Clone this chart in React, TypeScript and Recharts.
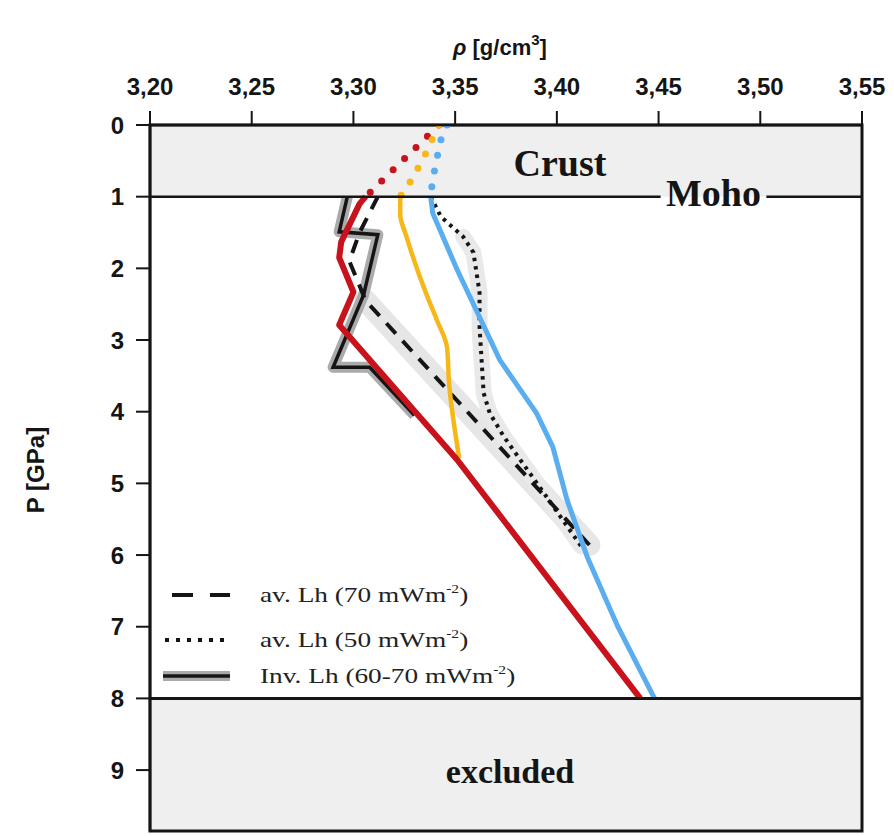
import React from 'react';
import {
  ComposedChart,
  Line,
  XAxis,
  YAxis,
  ReferenceArea,
  ReferenceLine,
  ReferenceDot,
} from 'recharts';

// axes
const rhoTicks = [3.2, 3.25, 3.3, 3.35, 3.4, 3.45, 3.5, 3.55];
const pTicks = [0, 1, 2, 3, 4, 5, 6, 7, 8, 9];
const rhoDomain = [3.2, 3.55];
const pDomain = [0, 9.85];
const mohoP = 1;
const cutP = 8;

// crust extrapolations (dotted, P 0-1)
const redCrust = [
  { p: 0, rho: 3.342 },
  { p: 1, rho: 3.306 },
];
const orangeCrust = [
  { p: 0, rho: 3.342 },
  { p: 0.43, rho: 3.335 },
  { p: 0.64, rho: 3.331 },
  { p: 0.84, rho: 3.327 },
  { p: 1, rho: 3.323 },
];
const blueCrust = [
  { p: 0, rho: 3.346 },
  { p: 0.28, rho: 3.342 },
  { p: 0.5, rho: 3.341 },
  { p: 0.74, rho: 3.339 },
  { p: 1, rho: 3.338 },
];

// mantle profiles
const redMantle = [
  { p: 1, rho: 3.306 },
  { p: 1.1, rho: 3.303 },
  { p: 1.63, rho: 3.294 },
  { p: 1.85, rho: 3.293 },
  { p: 2.33, rho: 3.3 },
  { p: 2.79, rho: 3.293 },
  { p: 4.67, rho: 3.351 },
  { p: 8, rho: 3.441 },
];
const orangeMantle = [
  { p: 1, rho: 3.323 },
  { p: 1.25, rho: 3.323 },
  { p: 1.55, rho: 3.326 },
  { p: 2.37, rho: 3.336 },
  { p: 2.72, rho: 3.341 },
  { p: 3.1, rho: 3.346 },
  { p: 3.6, rho: 3.347 },
  { p: 4.65, rho: 3.352 },
];
const blueMantle = [
  { p: 1, rho: 3.338 },
  { p: 1.23, rho: 3.339 },
  { p: 2.02, rho: 3.351 },
  { p: 3.28, rho: 3.372 },
  { p: 4.02, rho: 3.39 },
  { p: 4.49, rho: 3.398 },
  { p: 5.23, rho: 3.405 },
  { p: 6.03, rho: 3.415 },
  { p: 7, rho: 3.43 },
  { p: 8, rho: 3.448 },
];

// lithosphere references
const avLh70 = [
  { p: 1, rho: 3.312 },
  { p: 1.5, rho: 3.303 },
  { p: 1.9, rho: 3.298 },
  { p: 2.45, rho: 3.306 },
  { p: 5.86, rho: 3.416 },
];
const avLh50 = [
  { p: 1, rho: 3.338 },
  { p: 1.28, rho: 3.343 },
  { p: 1.56, rho: 3.354 },
  { p: 1.78, rho: 3.359 },
  { p: 2.34, rho: 3.362 },
  { p: 2.82, rho: 3.362 },
  { p: 3.74, rho: 3.364 },
  { p: 4.02, rho: 3.367 },
  { p: 4.35, rho: 3.374 },
  { p: 5.19, rho: 3.395 },
  { p: 5.88, rho: 3.412 },
];
const invLh = [
  { p: 1, rho: 3.297 },
  { p: 1.49, rho: 3.293 },
  { p: 1.53, rho: 3.312 },
  { p: 2.37, rho: 3.305 },
  { p: 3.38, rho: 3.29 },
  { p: 3.38, rho: 3.308 },
  { p: 4.05, rho: 3.33 },
];

const legendLabels = ['av. Lh (70 mWm', 'av. Lh (50 mWm', 'Inv. Lh (60-70 mWm'];

const RED = '#c8121c';
const ORANGE = '#f7b718';
const BLUE = '#5aaef0';
const INK = '#151515';
const SHADE = '#efefef';
const SERIF = '"Liberation Serif", "Times New Roman", serif';
const SANS = '"Liberation Sans", Arial, Helvetica, sans-serif';

const bandData = avLh70.filter((d) => d.p >= 2.4);
const dottedBand = avLh50.filter((d) => d.p >= 1.3);

function serifText(text: string, size: number) {
  return (props: any) => (
    <text
      x={props.cx}
      y={props.cy}
      textAnchor="middle"
      dominantBaseline="central"
      fontFamily={SERIF}
      fontWeight="bold"
      fontSize={size}
      fill={INK}
    >
      {text}
    </text>
  );
}

function Legend() {
  const rows = [17, 62, 98];
  return (
    <svg
      width={400}
      height={120}
      style={{ position: 'absolute', left: 150, top: 570, overflow: 'visible' }}
    >
      <line x1={14} x2={72} y1={rows[0]} y2={rows[0]} stroke={INK} strokeWidth={4} strokeDasharray="21 17" />
      <line x1={7} x2={72} y1={rows[1]} y2={rows[1]} stroke={INK} strokeWidth={4} strokeDasharray="4 7" />
      <line x1={5} x2={72} y1={rows[2]} y2={rows[2]} stroke="#a9a9a9" strokeWidth={10} />
      <line x1={5} x2={72} y1={rows[2]} y2={rows[2]} stroke={INK} strokeWidth={3.5} />
      {legendLabels.map((label, i) => (
        <g key={label} transform={`translate(102 ${rows[i] + 7}) scale(1.3 1)`}>
          <text x={0} y={0} fontFamily={SERIF} fontSize={21} fill="#222">
            {label}
            <tspan fontSize={12} dy={-9}>-2</tspan>
            <tspan dy={9}>)</tspan>
          </text>
        </g>
      ))}
    </svg>
  );
}

export default function App() {
  return (
    <div style={{ position: 'relative', width: 878, height: 828 }}>
      <ComposedChart
        width={878}
        height={828}
        layout="vertical"
        margin={{ top: 67, right: 24, bottom: 5, left: 62 }}
      >
        <XAxis
          type="number"
          dataKey="rho"
          orientation="top"
          domain={rhoDomain}
          ticks={rhoTicks}
          allowDataOverflow
          height={50}
          tickSize={14}
          tickMargin={16}
          tickFormatter={(v: number) => v.toFixed(2).replace('.', ',')}
          tick={{ fill: INK, fontSize: 24, fontWeight: 'bold', fontFamily: SANS }}
          tickLine={{ stroke: INK, strokeWidth: 2 }}
          axisLine={{ stroke: INK, strokeWidth: 2.5 }}
          label={{
            content: (props: any) => {
              const vb = props.viewBox;
              return (
                <text
                  x={vb.x + vb.width / 2 - 6}
                  y={vb.y - 20}
                  textAnchor="middle"
                  fontFamily={SANS}
                  fontWeight="bold"
                  fontSize={22}
                  fill={INK}
                >
                  <tspan fontStyle="italic">ρ</tspan> [g/cm
                  <tspan fontSize={15} dy={-10}>3</tspan>
                  <tspan dy={10}>]</tspan>
                </text>
              );
            },
          }}
        />
        <YAxis
          type="number"
          dataKey="p"
          domain={pDomain}
          ticks={pTicks}
          allowDataOverflow
          width={80}
          tickSize={14}
          tickMargin={12}
          tick={{ fill: INK, fontSize: 24, fontWeight: 'bold', fontFamily: SANS }}
          tickLine={{ stroke: INK, strokeWidth: 2 }}
          axisLine={{ stroke: INK, strokeWidth: 2.5 }}
          label={{
            content: (props: any) => {
              const vb = props.viewBox;
              const cx = vb.x - 35;
              const cy = vb.y + 345;
              return (
                <text
                  x={cx}
                  y={cy}
                  transform={`rotate(-90 ${cx} ${cy})`}
                  textAnchor="middle"
                  dominantBaseline="central"
                  fontFamily={SANS}
                  fontWeight="bold"
                  fontSize={24}
                  fill={INK}
                >
                  P [GPa]
                </text>
              );
            },
          }}
        />

        <ReferenceArea x1={3.2} x2={3.55} y1={0} y2={mohoP} fill={SHADE} fillOpacity={1} stroke="none" />
        <ReferenceArea x1={3.2} x2={3.55} y1={cutP} y2={9.85} fill={SHADE} fillOpacity={1} stroke="none" />

        {/* grey uncertainty bands */}
        <Line data={bandData} dataKey="rho" stroke="#e6e6e6" strokeWidth={22} dot={false} strokeLinecap="round" isAnimationActive={false} />
        <Line data={dottedBand} dataKey="rho" stroke="#e9e9e9" strokeWidth={16} dot={false} strokeLinecap="round" strokeLinejoin="round" isAnimationActive={false} />
        <Line data={invLh} dataKey="rho" stroke="#ababab" strokeWidth={11} dot={false} strokeLinejoin="round" isAnimationActive={false} />

        {/* reference lithospheres */}
        <Line data={invLh} dataKey="rho" stroke={INK} strokeWidth={3.5} dot={false} isAnimationActive={false} />
        <Line data={avLh70} dataKey="rho" stroke={INK} strokeWidth={4} strokeDasharray="14 10" dot={false} isAnimationActive={false} />
        <Line data={avLh50} dataKey="rho" stroke={INK} strokeWidth={4} strokeDasharray="3.5 5" dot={false} isAnimationActive={false} />

        {/* crust extrapolations */}
        <Line data={redCrust} dataKey="rho" stroke={RED} strokeWidth={7} strokeDasharray="0 16" strokeLinecap="round" dot={false} isAnimationActive={false} />
        <Line data={orangeCrust} dataKey="rho" stroke={ORANGE} strokeWidth={7} strokeDasharray="0 16" strokeLinecap="round" dot={false} isAnimationActive={false} />
        <Line data={blueCrust} dataKey="rho" stroke={BLUE} strokeWidth={7} strokeDasharray="0 16" strokeLinecap="round" dot={false} isAnimationActive={false} />

        {/* mantle profiles */}
        <Line data={orangeMantle} dataKey="rho" type="monotone" stroke={ORANGE} strokeWidth={4.5} dot={false} isAnimationActive={false} />
        <Line data={blueMantle} dataKey="rho" stroke={BLUE} strokeWidth={5} dot={false} strokeLinejoin="round" isAnimationActive={false} />
        <Line data={redMantle} dataKey="rho" stroke={RED} strokeWidth={6} dot={false} strokeLinejoin="round" isAnimationActive={false} />

        <ReferenceLine segment={[{ x: 3.2, y: mohoP }, { x: 3.451, y: mohoP }]} stroke={INK} strokeWidth={2.5} />
        <ReferenceLine segment={[{ x: 3.503, y: mohoP }, { x: 3.55, y: mohoP }]} stroke={INK} strokeWidth={2.5} />
        <ReferenceLine y={cutP} stroke={INK} strokeWidth={3} />
        <ReferenceArea x1={3.2} x2={3.55} y1={0} y2={9.85} fill="none" stroke={INK} strokeWidth={3} />

        <ReferenceDot x={3.4015} y={0.53} r={0} shape={serifText('Crust', 38)} />
        <ReferenceDot x={3.477} y={0.95} r={0} shape={serifText('Moho', 38)} />
        <ReferenceDot x={3.377} y={9.02} r={0} shape={serifText('excluded', 34)} />
      </ComposedChart>
      <Legend />
    </div>
  );
}
